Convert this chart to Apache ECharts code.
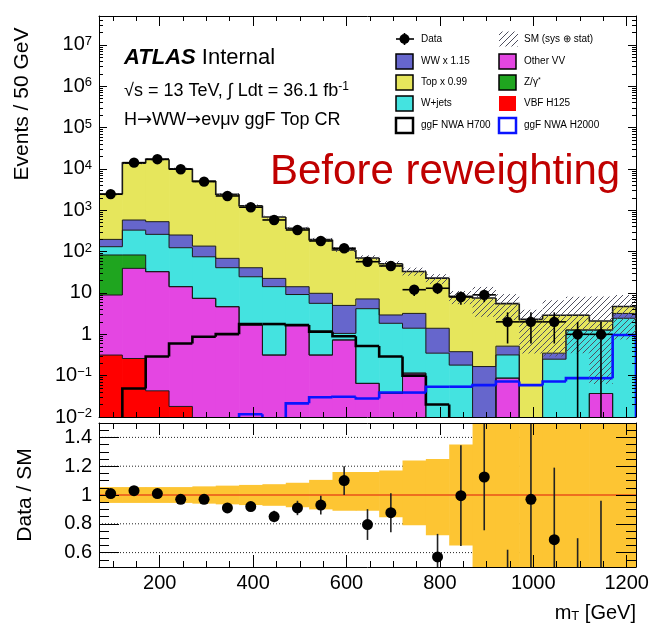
<!DOCTYPE html>
<html>
<head>
<meta charset="utf-8">
<script src="https://cdn.jsdelivr.net/npm/echarts@6/dist/echarts.min.js"></script>
<style>
  html, body { margin: 0; padding: 0; background: #ffffff; }
  #chart { width: 654px; height: 632px; }
</style>
</head>
<body>
<div id="chart"></div>
<script>
// ---------------------------------------------------------------------------
// m_T distribution, ggF Top control region, 50 GeV bins
// ---------------------------------------------------------------------------
const mtCenters = [95, 145, 195, 245, 295, 345, 395, 445, 495, 545, 595, 645,
                   695, 745, 795, 845, 895, 945, 995, 1045, 1095, 1145, 1195];
const BIN_WIDTH = 50;

// Background processes, events per bin (stack order: bottom first)
const vbfH125  = [0.315, 0.26, 0.043, 0.018, 0, 0, 0, 0, 0, 0, 0, 0,
                  0, 0, 0, 0, 0, 0, 0, 0, 0, 0, 0];
const otherVV  = [8.6, 39.1, 32.7, 14.2, 7.4, 4.65, 1.67, 0.315, 1.67, 0.315, 0.73, 0.065,
                  0.037, 0.115, 0, 0, 0, 0.087, 0, 0, 0, 0.037, 0];
const zGamma   = [74, 43.6, 0, 0, 0, 0, 0, 0, 0, 0, 0, 0,
                  0, 0, 0, 0, 0, 0, 0, 0, 0, 0, 0];
const wJets    = [48.6, 248, 229, 110, 67.6, 36.2, 23.0, 13.9, 7.5, 5.3, 0.32, 4.1,
                  1.81, 1.29, 0.35, 0.18, 0, 0.23, 0, 0.25, 1.27, 1.23, 2.44];
const wwScaled = [66, 250, 268, 128, 61, 27.9, 16.1, 8.3, 5.0, 4.2, 3.95, 3.0,
                  1.09, 1.8, 1.05, 0.2, 0.166, 0.2, 0, 0.1, 0, 0, 0.76];
const topScaled = [2237, 13220, 16470, 9890, 4944, 2371, 1249, 663, 353, 185, 105, 63,
                   48, 29.8, 21.4, 7.9, 7.4, 5.0, 2.3, 2.55, 1.63, 0.83, 1.5];

// Signal hypotheses (not stacked)
const ggfH700  = [0, 0.049, 0.29, 0.60, 0.875, 1.01, 1.77, 1.77, 1.67, 1.16, 0.9, 0.52,
                  0.29, 0.1, 0.02, 0, 0, 0, 0, 0, 0, 0, 0];
const ggfH2000 = [0, 0, 0, 0, 0, 0, 0.0117, 0, 0.0214, 0.03, 0.031, 0.028,
                  0.039, 0.039, 0.054, 0.054, 0.059, 0.072, 0.059, 0.072, 0.087, 0.087, 0.96];

// Observed data and uncertainties
const dataCounts = [2460, 14200, 17200, 9840, 4930, 2220, 1185, 583, 334, 181, 121, 57,
                    45, 12, 13, 8, 9, 2, 2, 2, 1, 1, null];
const dataErr    = [50, 119, 131, 99, 70, 47, 34, 24, 18, 13, 11, 7.5,
                    6.7, 3.5, 3.6, 2.8, 3, 1.4, 1.4, 1.4, 1, 1, null];

// Data / SM ratio with its statistical error
const ratioVals = [1.01, 1.03, 1.01, 0.97, 0.97, 0.91, 0.92, 0.85, 0.91, 0.93, 1.10, 0.795,
                   0.877, 0.36, 0.57, 0.995, 1.125, 0.36, 0.97, 0.69, 0.35, 0.48, null];
const ratioErr  = [0.02, 0.01, 0.01, 0.012, 0.016, 0.02, 0.03, 0.04, 0.05, 0.065, 0.1, 0.107,
                   0.135, 0.105, 0.16, 0.35, 0.37, 0.26, 0.69, 0.5, 0.35, 0.48, null];

// SM uncertainty (sys + stat), relative lower / upper edge
const smBandLo = [0.945, 0.945, 0.945, 0.945, 0.94, 0.935, 0.93, 0.925, 0.915, 0.90, 0.89, 0.89,
                  0.845, 0.79, 0.72, 0.65, 0.35, 0.4, 0.15, 0.1, 0.12, 0.03, 0.16];
const smBandHi = [1.055, 1.055, 1.055, 1.055, 1.06, 1.065, 1.07, 1.075, 1.085, 1.105, 1.16, 1.16,
                  1.17, 1.24, 1.25, 1.35, 1.85, 1.7, 1.7, 2.3, 2.8, 3.9, 1.9];

// Axis ticks and labels
const xMajorTicks = [200, 400, 600, 800, 1000, 1200];
const xMinorTicks = [100, 150, 250, 300, 350, 450, 500, 550, 650, 700, 750, 850,
                     900, 950, 1050, 1100, 1150];
const yMajorTicks = [0.01, 0.1, 1, 10, 100, 1e3, 1e4, 1e5, 1e6, 1e7];
const ratioMajorTicks = [0.6, 0.8, 1, 1.2, 1.4];
const ratioMinorTicks = [0.55, 0.65, 0.7, 0.75, 0.85, 0.9, 0.95, 1.05, 1.1, 1.15,
                         1.25, 1.3, 1.35, 1.45];
const ratioGridLines = [0.6, 0.8, 1.2, 1.4];

// ---------------------------------------------------------------------------
const X_MIN = 70, X_MAX = 1220;
const Y_MIN = 0.01, Y_MAX = 5e7, Y_FLOOR = 0.003;
const R_MIN = 0.5, R_MAX = 1.5;
const FONT = '"Liberation Sans", Arial, Helvetica, sans-serif';

const COLORS = {
  vbf: '#ff0000', vv: '#e446e2', z: '#1fa51f', wjets: '#44e3e0',
  ww: '#6666cc', top: '#e6e65c', h700: '#000000', h2000: '#0a14ff',
  band: '#fdc533', unity: '#e8501a'
};

// minor ticks of the logarithmic axis: 2..9 within each decade
const yMinorTicks = [];
for (let e = -2; e <= 7; e++) {
  for (let k = 2; k <= 9; k++) {
    const v = k * Math.pow(10, e);
    if (v < Y_MAX) yMinorTicks.push(v);
  }
}

const stackLayers = [
  { name: 'VBF H125',   values: vbfH125,   color: COLORS.vbf },
  { name: 'Other VV',   values: otherVV,   color: COLORS.vv },
  { name: 'Z/gamma*',   values: zGamma,    color: COLORS.z },
  { name: 'W+jets',     values: wJets,     color: COLORS.wjets },
  { name: 'WW x 1.15',  values: wwScaled,  color: COLORS.ww },
  { name: 'Top x 0.99', values: topScaled, color: COLORS.top }
];

// cumulative stack tops
let running = mtCenters.map(() => 0);
stackLayers.forEach(layer => {
  layer.lower = running.slice();
  running = running.map((v, i) => v + layer.values[i]);
  layer.upper = running.slice();
});
const smTotal = running;

// hatch pattern for the SM uncertainty
const hatch = (function () {
  const c = document.createElement('canvas');
  c.width = 6; c.height = 6;
  const g = c.getContext('2d');
  g.strokeStyle = '#505060';
  g.lineWidth = 1;
  g.beginPath();
  g.moveTo(0, 6); g.lineTo(6, 0);
  g.moveTo(-1, 1); g.lineTo(1, -1);
  g.moveTo(5, 7); g.lineTo(7, 5);
  g.stroke();
  return c;
})();

// ---------------------------------------------------------------------------
// series builders
function layerFill(layer) {
  return {
    type: 'custom', name: layer.name, xAxisIndex: 0, yAxisIndex: 0, clip: true, silent: true,
    data: mtCenters.map((c, i) => [c - BIN_WIDTH / 2, c + BIN_WIDTH / 2, layer.lower[i], layer.upper[i]]),
    renderItem(params, api) {
      const lo = Math.max(api.value(2), Y_MIN);
      const hi = Math.min(api.value(3), Y_MAX);
      if (!(hi > lo)) return null;
      const p1 = api.coord([api.value(0), hi]);
      const p2 = api.coord([api.value(1), lo]);
      return {
        type: 'rect',
        shape: { x: p1[0], y: p1[1], width: p2[0] - p1[0] + 0.6, height: p2[1] - p1[1] },
        style: { fill: layer.color }
      };
    }
  };
}

function stepOutline(name, tops, stroke, width) {
  const n = tops.length;
  return {
    type: 'custom', name, xAxisIndex: 0, yAxisIndex: 0, clip: true, silent: true,
    data: tops.map((v, i) => [mtCenters[i] - BIN_WIDTH / 2, mtCenters[i] + BIN_WIDTH / 2,
                              i === 0 ? 0 : tops[i - 1], v, i === n - 1 ? 1 : 0]),
    renderItem(params, api) {
      const fy = v => api.coord([X_MIN, Math.min(Math.max(v, Y_FLOOR), Y_MAX)])[1];
      const x0 = api.coord([api.value(0), 1])[0];
      const x1 = api.coord([api.value(1), 1])[0];
      const yPrev = fy(api.value(2));
      const y = fy(api.value(3));
      const pts = [[x0, yPrev], [x0, y], [x1, y]];
      if (api.value(4) === 1) pts.push([x1, fy(0)]);
      return { type: 'polyline', shape: { points: pts }, style: { stroke, lineWidth: width, fill: null } };
    }
  };
}

const series = [];

// stacked backgrounds
stackLayers.forEach(layer => series.push(layerFill(layer)));
stackLayers.forEach((layer, k) =>
  series.push(stepOutline(layer.name + ' outline', layer.upper, '#1a1a1a', k === stackLayers.length - 1 ? 1.6 : 1)));

// SM uncertainty hatch
series.push({
  type: 'custom', name: 'SM (sys + stat)', xAxisIndex: 0, yAxisIndex: 0, clip: true, silent: true,
  data: mtCenters.map((c, i) => [c - BIN_WIDTH / 2, c + BIN_WIDTH / 2, smTotal[i] * smBandLo[i], smTotal[i] * smBandHi[i]]),
  renderItem(params, api) {
    const lo = Math.max(api.value(2), Y_MIN);
    const hi = Math.min(api.value(3), Y_MAX);
    if (!(hi > lo)) return null;
    const p1 = api.coord([api.value(0), hi]);
    const p2 = api.coord([api.value(1), lo]);
    return {
      type: 'rect',
      shape: { x: p1[0], y: p1[1], width: p2[0] - p1[0], height: p2[1] - p1[1] },
      style: { fill: { image: hatch, repeat: 'repeat' } }
    };
  }
});

// signal outlines
series.push(stepOutline('ggF NWA H700', ggfH700, COLORS.h700, 2.6));
series.push(stepOutline('ggF NWA H2000', ggfH2000, COLORS.h2000, 2.6));

// data points
series.push({
  type: 'custom', name: 'Data', xAxisIndex: 0, yAxisIndex: 0, clip: true, silent: true,
  data: mtCenters.map((c, i) => [c, dataCounts[i], dataErr[i]]).filter(d => d[1] != null),
  renderItem(params, api) {
    const c = api.value(0), v = api.value(1), e = api.value(2);
    const clampY = t => Math.min(Math.max(t, Y_FLOOR), Y_MAX * 2);
    const pc = api.coord([c, clampY(v)]);
    const pLo = api.coord([c, clampY(v - e)]);
    const pHi = api.coord([c, clampY(v + e)]);
    const xl = api.coord([c - BIN_WIDTH / 2, 1])[0];
    const xr = api.coord([c + BIN_WIDTH / 2, 1])[0];
    const ls = { stroke: '#000', lineWidth: 1.6 };
    const kids = [
      { type: 'line', shape: { x1: pc[0], y1: pLo[1], x2: pc[0], y2: pHi[1] }, style: ls },
      { type: 'line', shape: { x1: xl, y1: pc[1], x2: xr, y2: pc[1] }, style: ls },
      { type: 'circle', shape: { cx: pc[0], cy: pc[1], r: 5.2 }, style: { fill: '#000' } }
    ];
    return { type: 'group', children: kids };
  }
});

// ----- ratio panel -----
series.push({
  type: 'custom', name: 'ratio grid', xAxisIndex: 4, yAxisIndex: 4, clip: true, silent: true,
  data: ratioGridLines.map(v => [v]),
  renderItem(params, api) {
    const a = api.coord([X_MIN, api.value(0)]);
    const b = api.coord([X_MAX, api.value(0)]);
    return { type: 'line', shape: { x1: a[0], y1: a[1], x2: b[0], y2: b[1] },
             style: { stroke: '#222', lineWidth: 1, lineDash: [1, 2] } };
  }
});

series.push({
  type: 'custom', name: 'SM uncertainty', xAxisIndex: 4, yAxisIndex: 4, clip: true, silent: true,
  data: mtCenters.map((c, i) => [c - BIN_WIDTH / 2, c + BIN_WIDTH / 2, smBandLo[i], smBandHi[i]]),
  renderItem(params, api) {
    const lo = Math.max(api.value(2), R_MIN);
    const hi = Math.min(api.value(3), R_MAX);
    const p1 = api.coord([api.value(0), hi]);
    const p2 = api.coord([api.value(1), lo]);
    return {
      type: 'rect',
      shape: { x: p1[0], y: p1[1], width: p2[0] - p1[0] + 0.6, height: p2[1] - p1[1] },
      style: { fill: COLORS.band }
    };
  }
});

series.push({
  type: 'custom', name: 'unity', xAxisIndex: 4, yAxisIndex: 4, clip: true, silent: true,
  data: [[1]],
  renderItem(params, api) {
    const a = api.coord([X_MIN, api.value(0)]);
    const b = api.coord([X_MAX, api.value(0)]);
    return { type: 'line', shape: { x1: a[0], y1: a[1], x2: b[0], y2: b[1] },
             style: { stroke: COLORS.unity, lineWidth: 1.6 } };
  }
});

series.push({
  type: 'custom', name: 'Data / SM', xAxisIndex: 4, yAxisIndex: 4, clip: true, silent: true,
  data: mtCenters.map((c, i) => [c, ratioVals[i], ratioErr[i]]).filter(d => d[1] != null),
  renderItem(params, api) {
    const c = api.value(0), r = api.value(1), e = api.value(2);
    const clampR = t => Math.min(Math.max(t, R_MIN - 0.2), R_MAX + 0.2);
    const pc = api.coord([c, clampR(r)]);
    const pLo = api.coord([c, clampR(r - e)]);
    const pHi = api.coord([c, clampR(r + e)]);
    const kids = [
      { type: 'line', shape: { x1: pc[0], y1: pLo[1], x2: pc[0], y2: pHi[1] },
        style: { stroke: '#222', lineWidth: 1.6 } }
    ];
    if (r >= R_MIN && r <= R_MAX) {
      kids.push({ type: 'circle', shape: { cx: pc[0], cy: pc[1], r: 5.5 }, style: { fill: '#000' } });
    }
    return { type: 'group', children: kids };
  }
});

// ---------------------------------------------------------------------------
// axes: ticks drawn inside the frame on all four sides
const LINE = { color: '#000', width: 1 };

function xAxisDef(gridIndex, position, ticks, len, showLine, labels) {
  return {
    type: 'value', gridIndex, position, min: X_MIN, max: X_MAX, z: 10,
    axisLine: { show: showLine, onZero: false, lineStyle: LINE },
    axisTick: { show: true, inside: true, length: len, customValues: ticks, lineStyle: LINE },
    axisLabel: labels ? {
      show: true, customValues: xMajorTicks, margin: 6, color: '#000',
      fontSize: 20, fontFamily: FONT, formatter: v => String(Math.round(v))
    } : { show: false },
    splitLine: { show: false }, minorTick: { show: false }
  };
}

function logLabel(v) {
  const e = Math.round(Math.log10(v));
  if (e === 0) return '1';
  if (e === 1) return '10';
  return '10{sup|' + (e < 0 ? '\u2212' + (-e) : e) + '}';
}

function yLogDef(position, ticks, len, showLine, labels) {
  return {
    type: 'log', logBase: 10, gridIndex: 0, position, min: Y_MIN, max: Y_MAX, z: 10,
    axisLine: { show: showLine, onZero: false, lineStyle: LINE },
    axisTick: { show: true, inside: true, length: len, customValues: ticks, lineStyle: LINE },
    axisLabel: labels ? {
      show: true, customValues: yMajorTicks, margin: 7, color: '#000',
      fontSize: 20, fontFamily: FONT, formatter: logLabel,
      rich: { sup: { fontSize: 13, fontFamily: FONT, color: '#000', verticalAlign: 'top', padding: [0, 0, 6, 0] } }
    } : { show: false },
    splitLine: { show: false }, minorTick: { show: false }
  };
}

function yRatioDef(position, ticks, len, showLine, labels) {
  return {
    type: 'value', gridIndex: 1, position, min: R_MIN, max: R_MAX, z: 10,
    axisLine: { show: showLine, onZero: false, lineStyle: LINE },
    axisTick: { show: true, inside: true, length: len, customValues: ticks, lineStyle: LINE },
    axisLabel: labels ? {
      show: true, customValues: ratioMajorTicks, margin: 7, color: '#000',
      fontSize: 20, fontFamily: FONT, formatter: v => String(Math.round(v * 10) / 10)
    } : { show: false },
    splitLine: { show: false }, minorTick: { show: false }
  };
}

const xAxes = [
  xAxisDef(0, 'bottom', xMajorTicks, 10, true, false),
  xAxisDef(0, 'bottom', xMinorTicks, 5, false, false),
  xAxisDef(0, 'top', xMajorTicks, 10, true, false),
  xAxisDef(0, 'top', xMinorTicks, 5, false, false),
  xAxisDef(1, 'bottom', xMajorTicks, 12, true, true),
  xAxisDef(1, 'bottom', xMinorTicks, 6, false, false),
  xAxisDef(1, 'top', xMajorTicks, 12, true, false),
  xAxisDef(1, 'top', xMinorTicks, 6, false, false)
];

const yAxes = [
  yLogDef('left', yMajorTicks, 8, true, true),
  yLogDef('left', yMinorTicks, 4, false, false),
  yLogDef('right', yMajorTicks, 8, true, false),
  yLogDef('right', yMinorTicks, 4, false, false),
  yRatioDef('left', ratioMajorTicks, 20, true, true),
  yRatioDef('left', ratioMinorTicks, 10, false, false),
  yRatioDef('right', ratioMajorTicks, 20, true, false),
  yRatioDef('right', ratioMinorTicks, 10, false, false)
];

// ---------------------------------------------------------------------------
// legend and annotation text
const LEG_COL = [396, 499];
const LEG_ROW = [39, 61.5, 82.5, 103.5, 125.5];
const legendEntries = [
  { col: 0, row: 0, kind: 'data', text: 'Data' },
  { col: 1, row: 0, kind: 'hatch', text: 'SM (sys \u2295 stat)' },
  { col: 0, row: 1, kind: 'box', color: COLORS.ww, text: 'WW x 1.15' },
  { col: 1, row: 1, kind: 'box', color: COLORS.vv, text: 'Other VV' },
  { col: 0, row: 2, kind: 'box', color: COLORS.top, text: 'Top x 0.99' },
  { col: 1, row: 2, kind: 'box', color: COLORS.z, text: 'Z/\u03b3{sup|*}' },
  { col: 0, row: 3, kind: 'box', color: COLORS.wjets, text: 'W+jets' },
  { col: 1, row: 3, kind: 'fill', color: COLORS.vbf, text: 'VBF H125' },
  { col: 0, row: 4, kind: 'line', color: COLORS.h700, text: 'ggF NWA H700' },
  { col: 1, row: 4, kind: 'line', color: COLORS.h2000, text: 'ggF NWA H2000' }
];

const graphics = [];
legendEntries.forEach(en => {
  const x = LEG_COL[en.col], y = LEG_ROW[en.row];
  const w = 17, h = 15;
  if (en.kind === 'data') {
    graphics.push({ type: 'line', shape: { x1: x, y1: y, x2: x + w + 1, y2: y }, style: { stroke: '#000', lineWidth: 1.6 } });
    graphics.push({ type: 'line', shape: { x1: x + w / 2, y1: y - 6, x2: x + w / 2, y2: y + 6 }, style: { stroke: '#000', lineWidth: 1.6 } });
    graphics.push({ type: 'circle', shape: { cx: x + w / 2, cy: y, r: 5 }, style: { fill: '#000' } });
  } else if (en.kind === 'hatch') {
    graphics.push({ type: 'rect', shape: { x, y: y - h / 2, width: w + 2, height: h }, style: { fill: { image: hatch, repeat: 'repeat' } } });
  } else if (en.kind === 'box') {
    graphics.push({ type: 'rect', shape: { x, y: y - h / 2, width: w, height: h }, style: { fill: en.color, stroke: '#000', lineWidth: 1.5 } });
  } else if (en.kind === 'fill') {
    graphics.push({ type: 'rect', shape: { x, y: y - h / 2, width: w, height: h }, style: { fill: en.color } });
  } else {
    graphics.push({ type: 'rect', shape: { x, y: y - h / 2, width: w, height: h }, style: { fill: '#fff', stroke: en.color, lineWidth: 2.5 } });
  }
  graphics.push({
    type: 'text', x: x + 25, y,
    style: { text: en.text, fontSize: 10, fontFamily: FONT, fill: '#000', align: 'left', verticalAlign: 'middle',
             rich: { sup: { fontSize: 7, fontFamily: FONT, fill: '#000', verticalAlign: 'top', padding: [0, 0, 4, 0] } } }
  });
});

graphics.push(
  { type: 'text', x: 124, y: 58,
    style: { text: '{b|ATLAS} Internal', fontSize: 22, fontFamily: FONT, fill: '#000', verticalAlign: 'middle',
             rich: { b: { fontSize: 22, fontFamily: FONT, fontWeight: 'bold', fontStyle: 'italic', fill: '#000' } } } },
  { type: 'text', x: 124, y: 91,
    style: { text: '\u221As = 13 TeV, \u222B Ldt = 36.1 fb{sup|-1}', fontSize: 18, fontFamily: FONT, fill: '#000', verticalAlign: 'middle',
             rich: { sup: { fontSize: 12, fontFamily: FONT, fill: '#000', verticalAlign: 'top', padding: [0, 0, 8, 0] } } } },
  { type: 'text', x: 124, y: 120,
    style: { text: 'H{ar|\u2192}WW{ar|\u2192}e\u03bd\u03bc\u03bd ggF Top CR', fontSize: 18, fontFamily: FONT, fill: '#000', verticalAlign: 'middle',
             rich: { ar: { fontSize: 18, fontFamily: '"DejaVu Sans"', fill: '#000' } } } },
  { type: 'text', x: 270, y: 172,
    style: { text: 'Before reweighting', fontSize: 42, fontFamily: FONT, fill: '#c00000', verticalAlign: 'middle' } },
  { type: 'text', x: 22, y: 104, rotation: Math.PI / 2,
    style: { text: 'Events / 50 GeV', fontSize: 21, fontFamily: FONT, fill: '#000', align: 'center', verticalAlign: 'middle' } },
  { type: 'text', x: 25, y: 495, rotation: Math.PI / 2,
    style: { text: 'Data / SM', fontSize: 21, fontFamily: FONT, fill: '#000', align: 'center', verticalAlign: 'middle' } },
  { type: 'text', x: 636, y: 613,
    style: { text: 'm{sub|T} [GeV]', fontSize: 20, fontFamily: FONT, fill: '#000', align: 'right', verticalAlign: 'middle',
             rich: { sub: { fontSize: 13, fontFamily: FONT, fill: '#000', verticalAlign: 'bottom', padding: [6, 0, 0, 0] } } } }
);

// ---------------------------------------------------------------------------
const chart = echarts.init(document.getElementById('chart'), null, { renderer: 'canvas', width: 654, height: 632 });
chart.setOption({
  animation: false,
  backgroundColor: '#ffffff',
  grid: [
    { left: 99, top: 16, width: 537, height: 401, outerBoundsMode: 'none' },
    { left: 99, top: 423, width: 537, height: 144, outerBoundsMode: 'none' }
  ],
  xAxis: xAxes,
  yAxis: yAxes,
  series,
  graphic: { elements: graphics.map(g => Object.assign({ z: 100, silent: true }, g)) }
});
</script>
</body>
</html>
